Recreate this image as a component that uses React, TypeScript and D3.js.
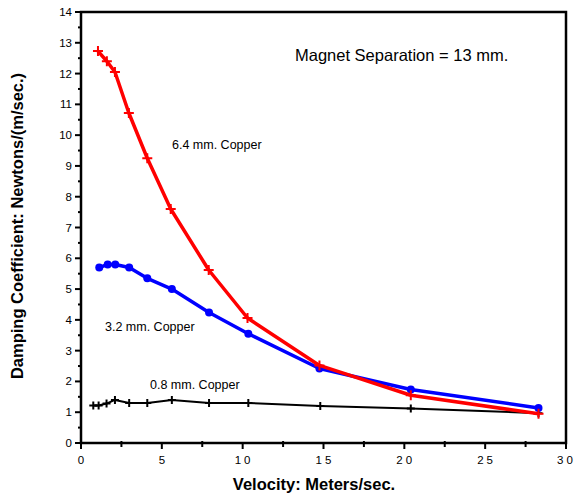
import { useEffect, useRef } from 'react';
import * as d3 from 'd3';

const copper64 = [
  [1.05, 12.73], [1.6, 12.4], [2.1, 12.05], [2.96, 10.72], [4.1, 9.25],
  [5.55, 7.6], [7.9, 5.62], [10.3, 4.06], [14.75, 2.52], [20.4, 1.55], [28.3, 0.95],
];
const copper32 = [
  [1.13, 5.7], [1.65, 5.8], [2.12, 5.8], [2.98, 5.7], [4.1, 5.35],
  [5.62, 5.0], [7.92, 4.24], [10.35, 3.55], [14.75, 2.42], [20.4, 1.74], [28.3, 1.14],
];
const copper08 = [
  [0.76, 1.22], [1.09, 1.22], [1.58, 1.28], [2.1, 1.4], [2.98, 1.3], [4.1, 1.3],
  [5.62, 1.4], [7.92, 1.3], [10.35, 1.3], [14.8, 1.2], [20.4, 1.12], [28.3, 0.97],
];
const xTicks = [0, 5, 10, 15, 20, 25, 30];
const yTicks = d3.range(0, 15);

const App = () => {
  const ref = useRef<SVGSVGElement>(null);

  useEffect(() => {
    const svg = d3.select(ref.current);
    svg.selectAll('*').remove();
    const font = 'Liberation Sans, Arial, Helvetica, sans-serif';

    const x = d3.scaleLinear().domain([0, 30]).range([81, 566]);
    const y = d3.scaleLinear().domain([0, 14]).range([443, 12]);

    const g = svg.append('g').attr('font-family', font);

    // frame
    g.append('rect')
      .attr('x', x(0)).attr('y', y(14))
      .attr('width', x(30) - x(0)).attr('height', y(0) - y(14))
      .attr('fill', 'none').attr('stroke', '#000').attr('stroke-width', 2.5);

    // y ticks
    yTicks.forEach((t) => {
      g.append('line').attr('x1', x(0) - 6).attr('x2', x(0)).attr('y1', y(t)).attr('y2', y(t))
        .attr('stroke', '#000').attr('stroke-width', 2);
      if (t < 14) {
        g.append('line').attr('x1', x(0) - 3).attr('x2', x(0)).attr('y1', y(t + 0.5)).attr('y2', y(t + 0.5))
          .attr('stroke', '#000').attr('stroke-width', 2);
      }
      g.append('text').attr('x', x(0) - 9).attr('y', y(t) + 4)
        .attr('text-anchor', 'end').attr('font-size', 11.5).text(t);
    });

    // x ticks (two-digit labels drawn with a gap between the digits)
    xTicks.forEach((t, i) => {
      g.append('line').attr('x1', x(t)).attr('x2', x(t)).attr('y1', y(0)).attr('y2', y(0) + 6)
        .attr('stroke', '#000').attr('stroke-width', 2);
      if (i < xTicks.length - 1) {
        g.append('line').attr('x1', x(t + 2.5)).attr('x2', x(t + 2.5)).attr('y1', y(0) - 2).attr('y2', y(0) + 4)
          .attr('stroke', '#000').attr('stroke-width', 2);
      }
      const s = String(t);
      const txt = g.append('text').attr('y', y(0) + 21).attr('font-size', 11.5);
      if (s.length === 1) {
        txt.attr('x', x(t)).attr('text-anchor', 'middle').text(s);
      } else {
        txt.attr('x', Math.min(x(t) - 8, 557));
        txt.append('tspan').text(s[0]);
        txt.append('tspan').attr('dx', 3).text(s[1]);
      }
    });

    const line = d3.line().x((d) => x(d[0])).y((d) => y(d[1]));

    const series = [
      { data: copper08, color: '#000', width: 2, marker: 'plus', size: 4 },
      { data: copper32, color: '#0000ff', width: 3.5, marker: 'circle', size: 4 },
      { data: copper64, color: '#ff0000', width: 3.5, marker: 'plus', size: 5 },
    ];

    series.forEach((s) => {
      g.append('path').datum(s.data).attr('d', line as any)
        .attr('fill', 'none').attr('stroke', s.color).attr('stroke-width', s.width)
        .attr('stroke-linejoin', 'round');
      s.data.forEach((d) => {
        const cx = x(d[0]);
        const cy = y(d[1]);
        if (s.marker === 'circle') {
          g.append('circle').attr('cx', cx).attr('cy', cy).attr('r', s.size).attr('fill', s.color);
        } else {
          g.append('path')
            .attr('d', `M${cx - s.size},${cy}H${cx + s.size}M${cx},${cy - s.size}V${cy + s.size}`)
            .attr('stroke', s.color).attr('stroke-width', 2);
        }
      });
    });

    // annotations
    g.append('text').attr('x', 295).attr('y', 61).attr('font-size', 16.5).text('Magnet Separation = 13 mm.');
    g.append('text').attr('x', 172).attr('y', 149).attr('font-size', 12.5).text('6.4 mm. Copper');
    g.append('text').attr('x', 105).attr('y', 331).attr('font-size', 12.5).text('3.2 mm. Copper');
    g.append('text').attr('x', 150).attr('y', 389).attr('font-size', 12.5).text('0.8 mm. Copper');

    // axis titles
    g.append('text').attr('x', 314).attr('y', 490).attr('text-anchor', 'middle')
      .attr('font-size', 16.5).attr('font-weight', 'bold').text('Velocity: Meters/sec.');
    g.append('text').attr('transform', `translate(23,226) rotate(-90)`)
      .attr('text-anchor', 'middle').attr('font-size', 16.5).attr('font-weight', 'bold')
      .text('Damping Coefficient: Newtons/(m/sec.)');
  }, []);

  return <svg ref={ref} width={574} height={504} style={{ display: 'block', position: 'absolute', left: 0, top: 0 }} />;
};

export default App;
